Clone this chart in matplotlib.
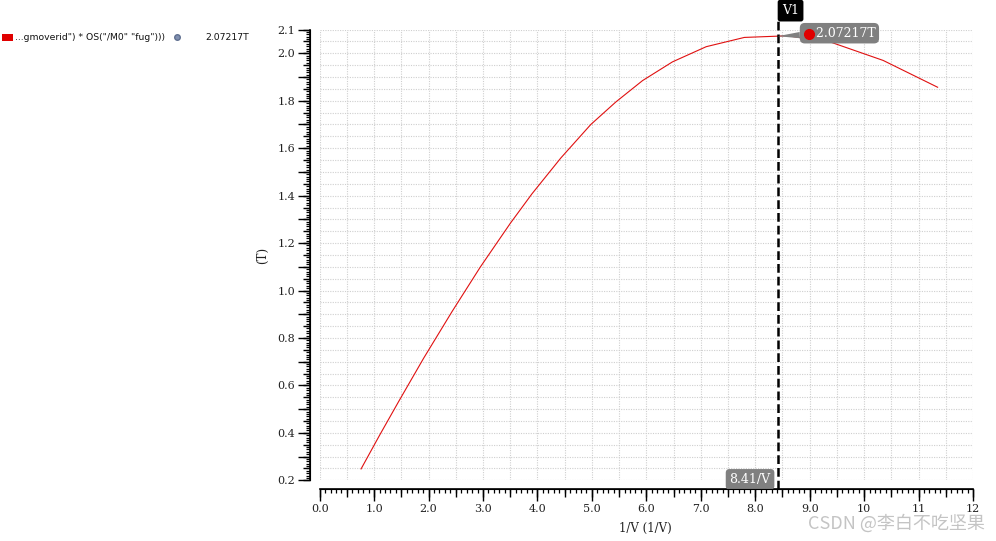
import numpy as np
import matplotlib.pyplot as plt
import matplotlib.transforms as mtransforms
from matplotlib.patches import Rectangle
from matplotlib.lines import Line2D
from matplotlib.ticker import MultipleLocator, FuncFormatter

# curve (gm/Id sweep -> fug)
inv_v = [0.76, 1.10, 1.45, 1.91, 2.43, 2.95, 3.50, 3.90, 4.43, 4.98, 5.44,
         5.93, 6.48, 7.10, 7.80, 8.60, 9.40, 10.35, 11.35]
fug = [0.248, 0.390, 0.532, 0.715, 0.911, 1.099, 1.283, 1.408, 1.559, 1.700,
       1.795, 1.885, 1.964, 2.028, 2.067, 2.074, 2.046, 1.970, 1.857]

marker_x = 8.41
marker_y = 2.07217
marker_name = 'V1'
legend_text = '...gmoverid") * OS("/M0" "fug")))'
value_text = '2.07217T'

serif = 'DejaVu Serif'
W, H = 996, 541
fig = plt.figure(figsize=(W / 100, H / 100), dpi=100)
rect = [319.7 / W, 1 - 480.3 / H, 653.3 / W, 450.7 / H]
ax = fig.add_axes(rect)

ax.plot(inv_v, fug, color='#e01010', lw=0.8, zorder=3)
ax.set_xlim(0, 12)
ax.set_ylim(0.2, 2.1)

# axes, ticks
ax.spines['top'].set_visible(False)
ax.spines['right'].set_visible(False)
ax.spines['left'].set_position(('outward', 7))
ax.spines['bottom'].set_position(('outward', 6.3))
ax.spines['left'].set_linewidth(1.2)
ax.spines['bottom'].set_linewidth(1.2)

ax.xaxis.set_major_locator(MultipleLocator(1))
ax.xaxis.set_minor_locator(MultipleLocator(0.1))
ax.yaxis.set_major_locator(MultipleLocator(0.1))
ax.yaxis.set_minor_locator(MultipleLocator(0.01))

def xfmt(v, pos):
    if v >= 9.5:
        return '%d' % round(v)
    return '%.1f' % v

def yfmt(v, pos):
    k = int(round(v * 10))
    if k % 2 == 0 or k == 21:
        return '%.1f' % v
    return ''

ax.xaxis.set_major_formatter(FuncFormatter(xfmt))
ax.yaxis.set_major_formatter(FuncFormatter(yfmt))
ax.tick_params(which='major', length=8.6, width=1.0, pad=2, labelsize=8,
               labelcolor='#222222')
ax.tick_params(which='minor', length=3.2, width=0.9)
for lab in ax.get_xticklabels() + ax.get_yticklabels():
    lab.set_family(serif)

# medium ticks on an overlay axes
ax2 = fig.add_axes(rect)
ax2.set_xlim(0, 12)
ax2.set_ylim(0.2, 2.1)
ax2.patch.set_visible(False)
ax2.spines['top'].set_visible(False)
ax2.spines['right'].set_visible(False)
ax2.spines['left'].set_position(('outward', 7))
ax2.spines['bottom'].set_position(('outward', 6.3))
ax2.xaxis.set_major_locator(MultipleLocator(0.5))
ax2.yaxis.set_major_locator(MultipleLocator(0.05))
ax2.tick_params(which='major', length=5.4, width=1.0, labelbottom=False,
                labelleft=False)

# grid
gx = np.arange(0, 12.01, 0.5)
gy = np.arange(0.2, 2.101, 0.05)
for g in gx:
    ax.axvline(g, color='#cfcfcf', lw=0.8, ls=(0, (1, 1.2)), zorder=1)
for g in gy:
    ax.axhline(g, color='#cfcfcf', lw=0.8, ls=(0, (1, 1.2)), zorder=1)

ax.set_xlabel('1/V (1/V)', family=serif, fontsize=8.5, color='#222222')
ax.set_ylabel('(T)', family=serif, fontsize=8.5, color='#222222')
ax.xaxis.set_label_coords(0.498, -0.092)
ax.yaxis.set_label_coords(-0.078, 0.5)

# vertical marker
ax.axvline(marker_x, ymin=-0.02, ymax=1.018, color='black', lw=1.8,
           ls=(0, (3.5, 1.6)), clip_on=False, zorder=4)
ax.annotate(marker_name, xy=(marker_x, 1.0), xycoords=('data', 'axes fraction'),
            xytext=(13, 19), textcoords='offset pixels', ha='center', va='center',
            family=serif, fontsize=9, color='white', annotation_clip=False,
            bbox=dict(boxstyle='round,pad=0.35,rounding_size=0.2', fc='black', ec='none'))
ax.annotate('%.2f/V' % marker_x, xy=(marker_x, 0.0), xycoords=('data', 'axes fraction'),
            xytext=(-27.5, 1), textcoords='offset pixels', ha='center', va='center',
            family=serif, fontsize=9, color='white', annotation_clip=False, zorder=5,
            bbox=dict(boxstyle='round,pad=0.3,rounding_size=0.3', fc='#808080', ec='none'))

# point label with callout
ax.annotate('   ' + value_text, xy=(marker_x, marker_y), xytext=(26, 3),
            textcoords='offset pixels', ha='left', va='center', family=serif,
            fontsize=9, color='white', zorder=5, annotation_clip=False,
            bbox=dict(boxstyle='round,pad=0.3,rounding_size=0.4', fc='#808080', ec='none'),
            arrowprops=dict(arrowstyle='wedge,tail_width=0.5,shrink_factor=0.5',
                            fc='#808080', ec='none', shrinkA=0, shrinkB=0))
dot_tr = mtransforms.offset_copy(ax.transData, fig=fig, x=31, y=2.6, units='dots')
ax.plot([marker_x], [marker_y], 'o', color='#e00000', ms=7, transform=dot_tr,
        zorder=6, clip_on=False)

# legend row top left
fig.add_artist(Rectangle((2 / W, 1 - 41 / H), 11 / W, 7 / H, transform=fig.transFigure,
                         fc='#e00000', ec='none'))
fig.text(15 / W, 1 - 37.5 / H, legend_text, fontsize=6.7, va='center', ha='left',
         color='#111111')
fig.add_artist(Line2D([177 / W], [1 - 37 / H], marker='o', ms=4, color='#8090b0',
                      mec='#607090', transform=fig.transFigure))
fig.text(205 / W, 1 - 37.5 / H, value_text, fontsize=6.7, va='center', ha='left',
         color='#111111')

fig.text(808 / W, 1 - 523 / H, 'CSDN @李白不吃坚果', fontsize=13, color='#c4c4c4',
         va='center', ha='left', family=['Noto Sans CJK SC', 'DejaVu Sans'])

fig.savefig('out.png', dpi=100)
